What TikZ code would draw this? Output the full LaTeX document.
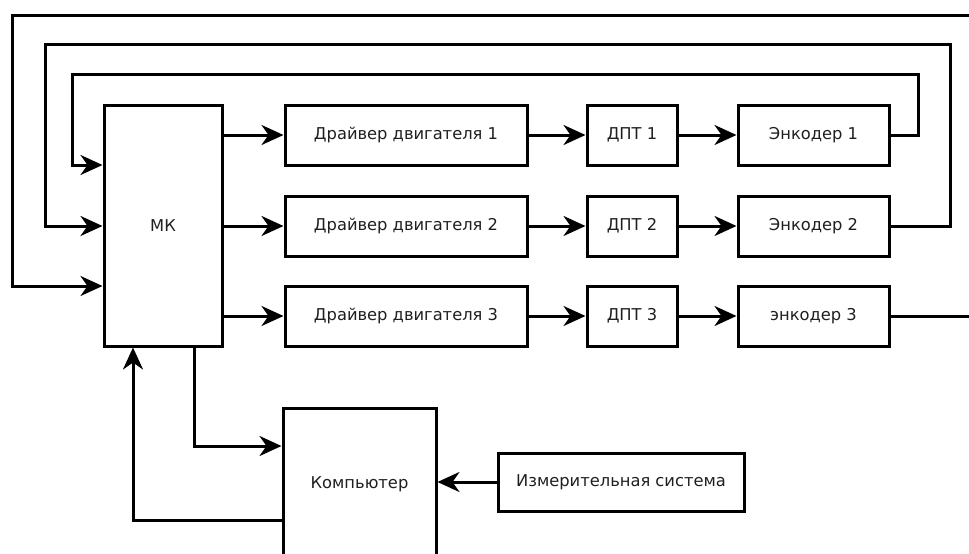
\documentclass[tikz,border=0pt]{standalone}
\usepackage{fontspec}
\setmainfont{DejaVu Sans}
\usetikzlibrary{arrows.meta}
\begin{document}
\begin{tikzpicture}[x=1pt,y=-1pt,
  blk/.style={draw=black,line width=3pt,rectangle,inner sep=0pt,
    font=\fontsize{16.3}{19}\selectfont,text=black!88},
  link/.style={line width=3pt,-{Stealth[length=22pt,width=20pt,inset=7pt]}},
  wire/.style={line width=3pt}]
\useasboundingbox (0,0) rectangle (969,554);
% blocks
\node[blk,minimum width=118pt,minimum height=241pt] (mk) at (163,225.5) {МК};
\node[blk,minimum width=242pt,minimum height=60pt] (drv1) at (406,135) {Драйвер двигателя 1};
\node[blk,minimum width=242pt,minimum height=60pt] (drv2) at (406,226) {Драйвер двигателя 2};
\node[blk,minimum width=242pt,minimum height=60pt] (drv3) at (406,316) {Драйвер двигателя 3};
\node[blk,minimum width=90pt,minimum height=60pt] (dpt1) at (632,135) {ДПТ 1};
\node[blk,minimum width=90pt,minimum height=60pt] (dpt2) at (632,226) {ДПТ 2};
\node[blk,minimum width=90pt,minimum height=60pt] (dpt3) at (632,316) {ДПТ 3};
\node[blk,minimum width=151pt,minimum height=60pt] (enc1) at (813.5,135) {Энкодер 1};
\node[blk,minimum width=151pt,minimum height=60pt] (enc2) at (813.5,226) {Энкодер 2};
\node[blk,minimum width=151pt,minimum height=60pt] (enc3) at (813.5,316) {энкодер 3};
\node[blk,minimum width=153pt,minimum height=152pt] (pc) at (359.5,484) {Компьютер};
\node[blk,minimum width=246pt,minimum height=58pt] (meas) at (621,482) {Измерительная система};
% turning points of the feedback lines
\coordinate (r1) at (918,74);
\coordinate (r2) at (950,44);
\coordinate (r3) at (980,15);
\coordinate (l1) at (72,165);
\coordinate (l2) at (45,226);
\coordinate (l3) at (12,286);
\coordinate (out3) at (980,316);
\coordinate (dn) at (194,446);
\coordinate (up) at (133,520);
% forward chain
\foreach \i in {1,2,3}{
  \draw[link] (mk.east |- drv\i) -- (drv\i);
  \draw[link] (drv\i) -- (dpt\i);
  \draw[link] (dpt\i) -- (enc\i);
}
% encoder feedback to the controller
\draw[link] (enc1.east) -| (r1) -| (l1) -- (mk.west |- l1);
\draw[link] (enc2.east) -| (r2) -| (l2) -- (mk.west |- l2);
\draw[wire] (enc3.east) -- (out3);
\draw[link] (r3) -| (l3) -- (mk.west |- l3);
% controller <-> computer
\draw[link] (mk.south -| dn) |- (pc.west |- dn);
\draw[link] (pc.west |- up) -| (mk.south -| up);
\draw[link] (meas.west) -- (pc.east |- meas.west);
\end{tikzpicture}
\end{document}
